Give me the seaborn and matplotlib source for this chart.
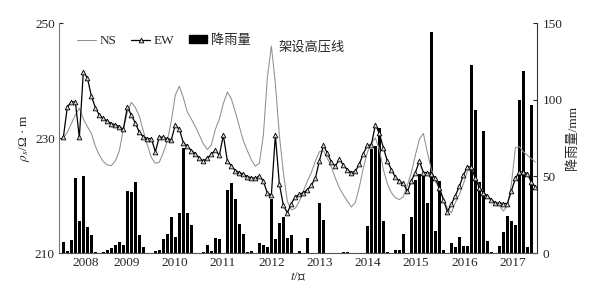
import numpy as np
import pandas as pd
import matplotlib
matplotlib.use('Agg')
import matplotlib.pyplot as plt
from matplotlib.lines import Line2D
from matplotlib.patches import Patch
import seaborn as sns

sns.set_style('ticks')
plt.rcParams['font.family'] = ['Liberation Serif', 'Noto Sans CJK SC']
plt.rcParams['mathtext.fontset'] = 'stix'
plt.rcParams['font.size'] = 9.5

# year labels and where they sit on the month axis
years = ['2008', '2009', '2010', '2011', '2012', '2013', '2014', '2015', '2016', '2017']
year_ticks = [5.7, 15.9, 27.9, 39.9, 52.2, 64.2, 76.2, 88.2, 100.4, 112.4]

# monthly rainfall, mm
rain = [7.5, 1.5, 8.5, 49, 21, 50, 17, 12, 0.6, 0,
        0.5, 1.7, 3, 5.4, 7, 5.4, 40.7, 39.6, 46, 12,
        3.7, 0, 0, 1, 2, 9.1, 12.3, 23.4, 10.6, 26.2,
        68.6, 26.2, 18.2, 0, 0, 0.5, 5.2, 1.3, 10, 8.9,
        0, 40.9, 45.9, 35.5, 18.8, 12.3, 0.6, 1.3, 0, 6.3,
        5.2, 3.7, 35.5, 9.1, 19.3, 23.6, 10, 11.7, 0, 1.5,
        0, 9.7, 0, 0, 32.5, 21.6, 0, 0, 0, 0,
        0.6, 0.5, 0, 0, 0, 0, 17.3, 67.7, 70, 81.8,
        20.6, 0.6, 0, 1.7, 2.2, 12.3, 0, 23.8, 47.6, 51.5,
        50.2, 32.9, 144.4, 14.5, 47, 2.2, 0, 6.5, 3.7, 10.4,
        4.8, 4.3, 122.7, 93, 46.5, 79.4, 7.6, 0.6, 0, 4.3,
        14, 24.2, 21, 18.4, 99.6, 118.4, 3.7, 96.8, 0]

# apparent resistivity, north-south
ns = [230.0, 231.0, 232.5, 234.0, 235.2, 233.3, 232.0, 230.8, 228.6, 227.0,
      225.9, 225.3, 225.2, 226.0, 227.8, 231.5, 234.5, 236.2, 235.3, 233.8,
      231.2, 228.8, 226.6, 225.6, 225.8, 227.5, 229.5, 233.0, 237.5, 239.0,
      237.0, 234.5, 233.3, 232.0, 230.5, 229.0, 228.0, 228.8, 231.5, 233.3,
      236.0, 238.0, 236.8, 234.5, 232.0, 229.5, 227.8, 226.2, 225.1, 225.6,
      230.5, 240.5, 246.0, 239.5, 230.5, 224.0, 219.0, 217.5, 217.8, 219.0,
      220.8, 222.5, 224.0, 226.0, 227.6, 227.8, 226.5, 225.0, 223.0, 221.3,
      220.1, 219.0, 218.0, 218.8, 221.5, 224.8, 227.5, 229.2, 230.0, 228.0,
      224.5, 222.0, 220.5, 219.6, 219.3, 219.8, 221.8, 224.0, 227.0, 229.8,
      230.8, 227.5, 224.5, 222.5, 221.2, 219.5, 217.8, 217.0, 218.8, 220.2,
      222.0, 224.2, 224.8, 223.0, 221.7, 220.6, 220.0, 219.3, 218.8, 218.2,
      217.3, 218.2, 222.0, 228.3, 228.5, 227.6, 227.0, 226.4, 225.8]

# apparent resistivity, east-west
ew = [230.1, 235.4, 236.3, 236.3, 230.1, 241.5, 240.5, 237.3, 235.3, 234.0,
      233.4, 233.0, 232.5, 232.3, 232.0, 231.5, 235.4, 234.0, 232.6, 231.0,
      230.2, 229.9, 229.9, 227.6, 230.2, 230.1, 229.9, 229.7, 232.3, 231.5,
      229.2, 228.6, 227.8, 227.3, 226.5, 226.0, 226.5, 227.2, 227.9, 227.0,
      230.5, 226.0, 225.2, 224.3, 224.0, 223.7, 223.3, 223.1, 223.0, 223.4,
      222.5, 220.4, 220.1, 230.5, 222.0, 218.3, 217.0, 218.6, 219.8, 220.2,
      220.5, 221.0, 221.8, 223.0, 226.0, 228.7, 227.4, 225.8, 225.1, 226.3,
      225.3, 224.5, 224.0, 224.2, 225.5, 227.3, 228.7, 228.8, 232.3, 230.8,
      228.3, 226.0, 224.5, 223.2, 222.5, 222.1, 220.7, 222.6, 224.0, 226.0,
      224.0, 224.0, 223.8, 223.0, 221.3, 219.3, 217.2, 218.5, 220.0, 221.6,
      223.5, 225.0, 225.0, 223.0, 221.3, 220.5, 219.9, 219.2, 218.7, 218.7,
      218.6, 218.6, 220.8, 223.0, 224.1, 224.1, 223.8, 222.3, 221.5]

df = pd.DataFrame({'month': np.arange(len(rain)), 'rain': rain, 'NS': ns, 'EW': ew})

fig = plt.figure(figsize=(5.89, 2.88), dpi=100)
ax = fig.add_axes([0.1002, 0.1215, 0.8115, 0.7986])
ax2 = ax.twinx()

sns.barplot(data=df, x='month', y='rain', native_scale=True, color='black',
            saturation=1, width=0.8, errorbar=None, linewidth=0, ax=ax2)
sns.lineplot(data=df, x='month', y='NS', color='#8f8f8f', lw=0.75, ax=ax)
sns.lineplot(data=df, x='month', y='EW', color='black', lw=0.9, marker='^',
             ms=3.4, mfc='#d4d4d4', mec='black', mew=0.6, ax=ax)

# lines above the bars
ax.set_zorder(ax2.get_zorder() + 1)
ax.patch.set_visible(False)

ax.set_xlim(-1.08, 118.4)
ax.set_ylim(210, 250)
ax2.set_ylim(0, 150)
ax.set_yticks([210, 230, 250])
ax2.set_yticks([0, 50, 100, 150])
ax.set_xticks(year_ticks)
ax.set_xticklabels(years)

ax.tick_params(axis='x', length=0, pad=3)
ax.tick_params(axis='y', direction='in', length=3, pad=3, width=0.8)
ax2.tick_params(axis='y', direction='in', length=3, pad=4, width=0.8)

ax.set_xlabel('$t$/年', labelpad=1)
ax.set_ylabel(r'$\rho_s$/Ω · m', labelpad=2)
ax2.set_xlabel('')
ax2.set_ylabel('降雨量/mm', labelpad=3)

for a in (ax, ax2):
    a.spines['top'].set_visible(False)
ax.spines['right'].set_visible(False)
ax2.spines['left'].set_visible(False)
ax2.spines['bottom'].set_visible(False)
ax.spines['left'].set_color('#777777')
ax.spines['bottom'].set_color('#555555')
ax2.spines['right'].set_color('#333333')

ax.text(53.7, 245.8, '架设高压线', ha='left', va='center')

handles = [Line2D([], [], color='#8f8f8f', lw=0.75),
           Line2D([], [], color='black', lw=0.9, marker='^', ms=3.4,
                  mfc='#d4d4d4', mec='black', mew=0.6),
           Patch(facecolor='black', edgecolor='black')]
ax.legend(handles, ['NS', 'EW', '降雨量'], ncol=3, loc='upper left',
          bbox_to_anchor=(0.022, 0.985), frameon=False, handlelength=1.4,
          handleheight=0.6, handletextpad=0.3, columnspacing=1.1,
          borderaxespad=0.2)

fig.savefig('out.png', dpi=100)
